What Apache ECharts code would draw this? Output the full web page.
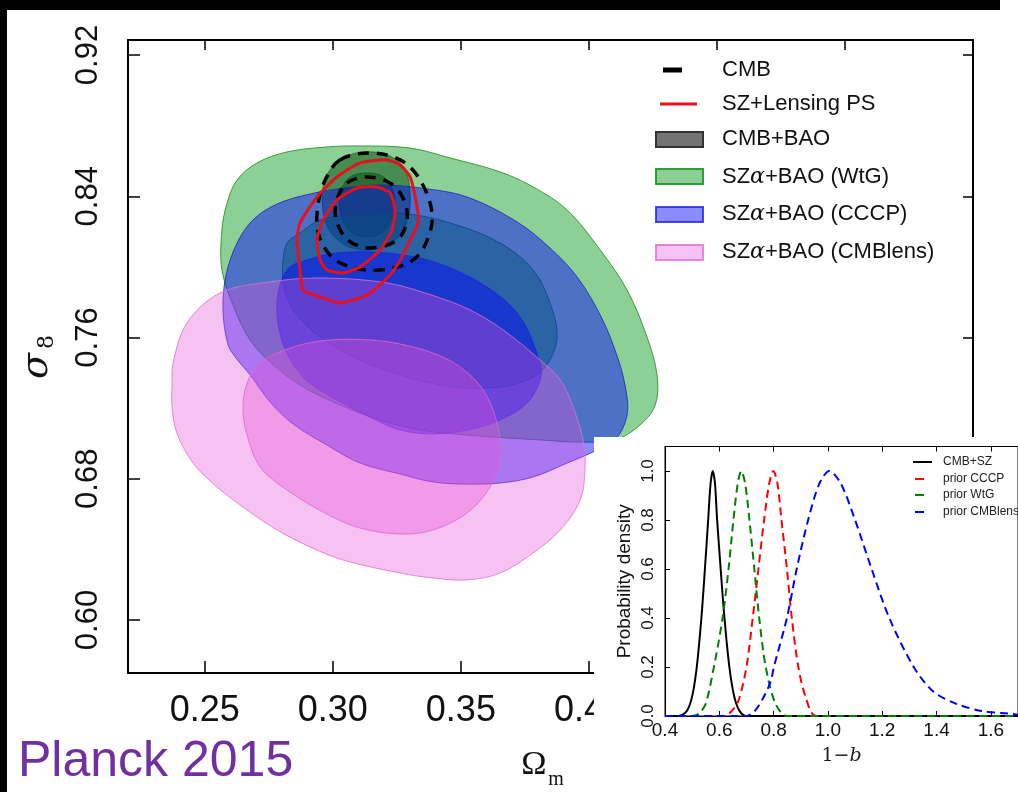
<!DOCTYPE html>
<html><head><meta charset="utf-8">
<script src="https://cdn.jsdelivr.net/npm/echarts@6/dist/echarts.min.js"></script>
<style>html,body{margin:0;padding:0;background:#fff}#c{width:1018px;height:792px}</style>
</head><body><div id="c"></div>
<script>
// ---------- main panel: tick values ----------
const omegaTicks = [0.25, 0.30, 0.35, 0.40, 0.45, 0.50, 0.55];
const sigmaTicks = [0.60, 0.68, 0.76, 0.84, 0.92];

// ---------- main panel: contours [Omega_m, sigma_8] ----------
const cmbbaoOuter = [[0.3126,0.8651],[0.3223,0.8628],[0.3282,0.8549],[0.3302,0.8407],[0.329,0.8254],[0.3243,0.8152],[0.3145,0.8096],[0.3048,0.8124],[0.2981,0.822],[0.2958,0.8379],[0.2977,0.8521],[0.304,0.8617]];
const cmbbaoInner = [[0.3134,0.8532],[0.3204,0.8504],[0.3239,0.8407],[0.3235,0.8294],[0.3196,0.8198],[0.3134,0.8169],[0.3071,0.8198],[0.3032,0.8294],[0.3028,0.8407],[0.3063,0.8504]];
const wtgOuter = [[0.2567,0.7983],[0.2567,0.8209],[0.2587,0.8362],[0.2626,0.8492],[0.2704,0.8589],[0.2821,0.8651],[0.2977,0.8679],[0.3106,0.8685],[0.3302,0.8673],[0.3458,0.8617],[0.3653,0.8538],[0.3782,0.8453],[0.3915,0.8322],[0.4044,0.8096],[0.4149,0.7869],[0.4227,0.7603],[0.4266,0.7388],[0.4259,0.7218],[0.42,0.7105],[0.4102,0.702],[0.3966,0.7008],[0.3809,0.702],[0.3575,0.7042],[0.3341,0.7076],[0.3184,0.7133],[0.3028,0.7218],[0.2872,0.7331],[0.2755,0.7461],[0.2677,0.7586],[0.2618,0.7756]];
const wtgInner = [[0.2805,0.8022],[0.2821,0.8135],[0.2872,0.8192],[0.295,0.8266],[0.3079,0.8294],[0.3263,0.8305],[0.3458,0.8249],[0.3653,0.8135],[0.3782,0.7983],[0.3848,0.7796],[0.3876,0.7614],[0.3848,0.7473],[0.3782,0.7376],[0.3653,0.732],[0.347,0.732],[0.3263,0.7388],[0.3106,0.7473],[0.295,0.7603],[0.286,0.7728],[0.2821,0.783],[0.2805,0.7926]];
const cccpOuter = [[0.2591,0.7558],[0.2571,0.7756],[0.2583,0.7954],[0.2626,0.8135],[0.2688,0.8266],[0.2782,0.8356],[0.2911,0.8413],[0.3048,0.8447],[0.3184,0.8464],[0.3341,0.8447],[0.3524,0.8396],[0.372,0.8254],[0.3848,0.8107],[0.3954,0.7943],[0.4044,0.7728],[0.4102,0.7529],[0.4141,0.7331],[0.4149,0.7161],[0.4102,0.702],[0.4016,0.6952],[0.3915,0.6889],[0.3782,0.681],[0.3653,0.6776],[0.3524,0.677],[0.3391,0.6782],[0.3263,0.6827],[0.3106,0.6889],[0.2977,0.6991],[0.2845,0.711],[0.2755,0.7235],[0.2677,0.7388],[0.2622,0.7484]];
const cccpInner = [[0.2782,0.7796],[0.2821,0.7983],[0.2899,0.8039],[0.3016,0.8079],[0.3212,0.8079],[0.3407,0.8022],[0.3602,0.7886],[0.3731,0.7716],[0.3809,0.7456],[0.3809,0.7359],[0.3759,0.7229],[0.3653,0.7133],[0.3524,0.7076],[0.3391,0.7054],[0.3263,0.7076],[0.3184,0.7122],[0.3016,0.7246],[0.2884,0.7376],[0.2805,0.7569]];
const lensOuter = [[0.2376,0.7456],[0.243,0.7682],[0.2559,0.7852],[0.2755,0.7915],[0.295,0.7937],[0.3212,0.7909],[0.3407,0.783],[0.3536,0.7756],[0.3665,0.7643],[0.3809,0.7473],[0.3888,0.7359],[0.3938,0.7207],[0.3977,0.702],[0.3985,0.6867],[0.3966,0.668],[0.3888,0.651],[0.3782,0.638],[0.3653,0.6266],[0.3524,0.6227],[0.3391,0.6238],[0.3263,0.6266],[0.304,0.634],[0.2911,0.6414],[0.2782,0.651],[0.2665,0.6623],[0.2548,0.6753],[0.2454,0.6889],[0.2391,0.7059],[0.2372,0.7207],[0.2372,0.7331]];
const lensInner = [[0.2649,0.719],[0.2665,0.7342],[0.2716,0.7456],[0.2845,0.7546],[0.2989,0.7586],[0.3145,0.7586],[0.3263,0.7563],[0.3391,0.7512],[0.3497,0.7433],[0.3587,0.7303],[0.3641,0.7116],[0.3653,0.6923],[0.3614,0.6753],[0.3524,0.6606],[0.3391,0.651],[0.3263,0.6487],[0.3106,0.6521],[0.2977,0.66],[0.2821,0.6736],[0.2716,0.6867],[0.2665,0.7048]];
const cmbOuter = [[0.3028,0.8606],[0.3145,0.8645],[0.3263,0.8606],[0.3341,0.8492],[0.3388,0.8294],[0.336,0.8124],[0.3302,0.8028],[0.3184,0.7983],[0.3067,0.80],[0.2989,0.8067],[0.2942,0.8198],[0.2942,0.8351],[0.297,0.8492]];
const cmbInner = [[0.3055,0.8475],[0.3134,0.8509],[0.3223,0.8475],[0.3274,0.839],[0.329,0.8266],[0.3251,0.8152],[0.3145,0.8107],[0.3059,0.8152],[0.3013,0.8266],[0.3016,0.8379]];
const szOuter = [[0.286,0.8152],[0.2872,0.8249],[0.2938,0.8396],[0.3016,0.8509],[0.3106,0.8589],[0.3212,0.8606],[0.3263,0.8577],[0.3302,0.8509],[0.3329,0.8339],[0.3333,0.8249],[0.3302,0.8152],[0.3263,0.8039],[0.3223,0.7954],[0.3134,0.7841],[0.3028,0.7796],[0.295,0.783],[0.2884,0.7869],[0.2872,0.7983]];
const szInner = [[0.295,0.8039],[0.2938,0.8152],[0.2962,0.8266],[0.3016,0.8379],[0.3095,0.8447],[0.3173,0.8453],[0.3223,0.8419],[0.3243,0.8322],[0.3231,0.8209],[0.3184,0.8096],[0.3106,0.80],[0.304,0.7966],[0.2977,0.7983]];

// ---------- inset: tick values and curves [1-b, density] ----------
const biasTicks = [0.4, 0.6, 0.8, 1.0, 1.2, 1.4, 1.6];
const densityTicks = [0.0, 0.2, 0.4, 0.6, 0.8, 1.0];
const cmbSZ = [[0.40,0],[0.45,0],[0.48,0.02],[0.50,0.08],[0.517,0.2],[0.534,0.4],[0.547,0.6],[0.559,0.8],[0.568,0.95],[0.576,1.0],[0.584,0.95],[0.592,0.8],[0.605,0.6],[0.619,0.4],[0.637,0.2],[0.655,0.08],[0.675,0.02],[0.70,0],[1.7,0]];
const priorWtG = [[0.40,0],[0.50,0],[0.525,0.01],[0.55,0.05],[0.58,0.2],[0.612,0.4],[0.634,0.6],[0.652,0.8],[0.668,0.95],[0.681,1.0],[0.695,0.95],[0.711,0.8],[0.729,0.6],[0.747,0.4],[0.771,0.2],[0.807,0.05],[0.85,0],[1.7,0]];
const priorCCCP = [[0.40,0],[0.62,0],[0.645,0.02],[0.67,0.06],[0.70,0.2],[0.723,0.4],[0.744,0.6],[0.765,0.8],[0.784,0.95],[0.799,1.0],[0.814,0.95],[0.829,0.8],[0.849,0.6],[0.867,0.4],[0.891,0.2],[0.92,0.07],[0.957,0],[1.7,0]];
const priorCMBlens = [[0.40,0],[0.70,0],[0.73,0.02],[0.76,0.07],[0.789,0.14],[0.801,0.2],[0.849,0.4],[0.885,0.6],[0.927,0.8],[0.969,0.95],[1.005,1.0],[1.047,0.95],[1.10,0.8],[1.161,0.6],[1.226,0.4],[1.316,0.2],[1.388,0.1],[1.472,0.05],[1.568,0.02],[1.664,0.01],[1.7,0.005]];

const SANS = 'Liberation Sans';
const chart = echarts.init(document.getElementById('c'), null, {renderer: 'canvas'});

function contour(name, pts, st, z) {
  return {
    type: 'custom', name: name, coordinateSystem: 'cartesian2d', xAxisIndex: 0, yAxisIndex: 0,
    z: z, silent: true, data: pts,
    renderItem: function (params, api) {
      if (params.dataIndex !== 0) return null;
      const points = pts.map(function (p) { return api.coord(p); });
      return {
        type: 'polygon',
        shape: {points: points, smooth: st.smooth == null ? 0.35 : st.smooth},
        style: {fill: st.fill || 'none', stroke: st.stroke, lineWidth: st.lineWidth || 1, lineDash: st.lineDash || null}
      };
    }
  };
}
function curve(name, pts, color, dashed) {
  return {
    type: 'line', name: name, xAxisIndex: 2, yAxisIndex: 2, data: pts, showSymbol: false, symbol: 'none',
    smooth: 0.3, z: 31, silent: true,
    lineStyle: {color: color, width: 2, type: dashed ? [8, 5] : 'solid'}
  };
}

const GRAY = 'rgba(30,30,30,0.55)', GREEN = 'rgba(0,150,20,0.45)', BLUE = 'rgba(0,0,255,0.45)', PINK = 'rgba(230,80,215,0.35)';

const mainAxisCommon = {
  type: 'value', gridIndex: 0, z: 1,
  axisLine: {show: true, onZero: false, lineStyle: {color: '#000', width: 2}},
  splitLine: {show: false}
};

const option = {
  animation: false,
  backgroundColor: '#fff',
  grid: [
    {left: 128, right: 45, top: 40, bottom: 119, show: false},
    {left: 665, right: -8, top: 446.5, bottom: 76, show: true, borderColor: '#000', borderWidth: 1, backgroundColor: 'transparent', z: 30}
  ],
  xAxis: [
    Object.assign({}, mainAxisCommon, {min: 0.22, max: 0.55, position: 'bottom',
      axisTick: {show: true, inside: true, length: 12, customValues: omegaTicks, lineStyle: {color: '#000', width: 1.5}},
      axisLabel: {customValues: omegaTicks, formatter: function (v) { return v.toFixed(2); }, fontSize: 36, fontFamily: SANS, color: '#111', margin: 20}}),
    Object.assign({}, mainAxisCommon, {min: 0.22, max: 0.55, position: 'top',
      axisTick: {show: true, inside: true, length: 10, customValues: omegaTicks, lineStyle: {color: '#000', width: 1.5}},
      axisLabel: {show: false}}),
    {type: 'value', gridIndex: 1, min: 0.4, max: 1.7, position: 'bottom', z: 30,
      axisLine: {show: true, onZero: false, lineStyle: {color: '#000', width: 1}},
      axisTick: {show: true, inside: true, length: 5, customValues: biasTicks, lineStyle: {color: '#000'}},
      axisLabel: {customValues: biasTicks, formatter: function (v) { return v.toFixed(1); }, fontSize: 19, fontFamily: SANS, color: '#111', margin: 5},
      splitLine: {show: false},
      name: '{a|1−}{b|b}', nameLocation: 'middle', nameGap: 31,
      nameTextStyle: {rich: {a: {fontSize: 19, fontFamily: 'DejaVu Serif', color: '#222'}, b: {fontSize: 19, fontFamily: 'DejaVu Serif', fontStyle: 'italic', color: '#222'}}}},
    {type: 'value', gridIndex: 1, min: 0.4, max: 1.7, position: 'top', z: 30,
      axisLine: {show: true, onZero: false, lineStyle: {color: '#000', width: 1}},
      axisTick: {show: true, inside: true, length: 5, customValues: biasTicks, lineStyle: {color: '#000'}},
      axisLabel: {show: false}, splitLine: {show: false}}
  ],
  yAxis: [
    Object.assign({}, mainAxisCommon, {min: 0.57, max: 0.9285, position: 'left',
      axisTick: {show: true, inside: true, length: 12, customValues: sigmaTicks, lineStyle: {color: '#000', width: 1.5}},
      axisLabel: {customValues: sigmaTicks, formatter: function (v) { return v.toFixed(2); }, rotate: 90, fontSize: 31, fontFamily: SANS, color: '#111', margin: 24}}),
    Object.assign({}, mainAxisCommon, {min: 0.57, max: 0.9285, position: 'right',
      axisTick: {show: true, inside: true, length: 10, customValues: sigmaTicks, lineStyle: {color: '#000', width: 1.5}},
      axisLabel: {show: false}}),
    {type: 'value', gridIndex: 1, min: 0, max: 1.1, position: 'left', z: 30,
      axisLine: {show: true, onZero: false, lineStyle: {color: '#000', width: 1}},
      axisTick: {show: true, inside: true, length: 5, customValues: densityTicks, lineStyle: {color: '#000'}},
      axisLabel: {customValues: densityTicks, formatter: function (v) { return v.toFixed(1); }, rotate: 90, fontSize: 17, fontFamily: SANS, color: '#111', margin: 8},
      splitLine: {show: false},
      name: 'Probability density', nameLocation: 'middle', nameRotate: 90, nameGap: 31,
      nameTextStyle: {fontSize: 19, fontFamily: SANS, color: '#111'}}
  ],
  series: [
    contour('CMB+BAO', cmbbaoOuter, {fill: GRAY, stroke: 'rgba(20,20,20,0.6)'}, 2),
    contour('CMB+BAO', cmbbaoInner, {fill: GRAY, stroke: 'rgba(20,20,20,0.6)'}, 2),
    contour('SZα+BAO (WtG)', wtgOuter, {fill: GREEN, stroke: 'rgba(40,150,40,0.9)'}, 3),
    contour('SZα+BAO (WtG)', wtgInner, {fill: GREEN, stroke: 'rgba(20,120,40,0.8)'}, 3),
    contour('SZα+BAO (CCCP)', cccpOuter, {fill: BLUE, stroke: 'rgba(30,30,200,0.8)'}, 4),
    contour('SZα+BAO (CCCP)', cccpInner, {fill: BLUE, stroke: 'rgba(30,30,230,0.8)'}, 4),
    contour('SZα+BAO (CMBlens)', lensOuter, {fill: PINK, stroke: 'rgba(225,110,215,0.8)'}, 5),
    contour('SZα+BAO (CMBlens)', lensInner, {fill: PINK, stroke: 'rgba(225,100,215,0.8)'}, 5),
    contour('CMB', cmbOuter, {stroke: '#000', lineWidth: 3.5, lineDash: [11, 8]}, 6),
    contour('CMB', cmbInner, {stroke: '#000', lineWidth: 3.5, lineDash: [11, 8]}, 6),
    contour('SZ+Lensing PS', szOuter, {stroke: '#e8101c', lineWidth: 3, smooth: 0.2}, 7),
    contour('SZ+Lensing PS', szInner, {stroke: '#e8101c', lineWidth: 3, smooth: 0.2}, 7),
    curve('CMB+SZ', cmbSZ, '#000', false),
    curve('prior CCCP', priorCCCP, '#ff0000', true),
    curve('prior WtG', priorWtG, '#008000', true),
    curve('prior CMBlens', priorCMBlens, '#0000ff', true)
  ],
  graphic: {elements: [
    {type: 'rect', z: 20, silent: true, shape: {x: 594, y: 437, width: 430, height: 360}, style: {fill: '#fff'}},
    {type: 'rect', z: 100, shape: {x: 0, y: 0, width: 1000, height: 10}, style: {fill: '#000'}},
    {type: 'rect', z: 100, shape: {x: 0, y: 0, width: 7, height: 792}, style: {fill: '#000'}},
    {type: 'text', z: 40, x: 37, y: 366, rotation: Math.PI / 2, style: {text: 'σ', font: 'italic 38px DejaVu Serif', fill: '#111', align: 'center', verticalAlign: 'middle'}},
    {type: 'text', z: 40, x: 47, y: 342, rotation: Math.PI / 2, style: {text: '8', font: '22px DejaVu Serif', fill: '#111', align: 'center', verticalAlign: 'middle'}},
    {type: 'text', z: 40, x: 534, y: 765, style: {text: 'Ω', font: '34px Liberation Serif', fill: '#111', align: 'center', verticalAlign: 'middle'}},
    {type: 'text', z: 40, x: 556, y: 780, style: {text: 'm', font: '20px Liberation Serif', fill: '#111', align: 'center', verticalAlign: 'middle'}},
    {type: 'text', z: 40, x: 18, y: 762, style: {text: 'Planck 2015', font: '50px Liberation Sans', fill: '#7030a0', align: 'left', verticalAlign: 'middle'}},
    {type: 'line', z: 40, shape: {x1: 663, y1: 70, x2: 682, y2: 70}, style: {stroke: '#000', lineWidth: 5}},
    {type: 'line', z: 40, shape: {x1: 660, y1: 104, x2: 697, y2: 104}, style: {stroke: '#e8101c', lineWidth: 3}},
    {type: 'rect', z: 40, shape: {x: 656, y: 132, width: 47, height: 15}, style: {fill: 'rgba(40,40,40,0.65)', stroke: '#333', lineWidth: 2}},
    {type: 'rect', z: 40, shape: {x: 656, y: 169, width: 47, height: 15}, style: {fill: GREEN, stroke: 'rgba(30,150,40,0.9)', lineWidth: 2}},
    {type: 'rect', z: 40, shape: {x: 656, y: 207, width: 47, height: 15}, style: {fill: BLUE, stroke: 'rgba(30,30,230,0.8)', lineWidth: 2}},
    {type: 'rect', z: 40, shape: {x: 656, y: 245, width: 47, height: 15}, style: {fill: PINK, stroke: 'rgba(225,110,215,0.8)', lineWidth: 2}},
    {type: 'text', z: 40, x: 722, y: 70, style: {text: 'CMB', font: '22px Liberation Sans', fill: '#111', verticalAlign: 'middle'}},
    {type: 'text', z: 40, x: 722, y: 104, style: {text: 'SZ+Lensing PS', font: '22px Liberation Sans', fill: '#111', verticalAlign: 'middle'}},
    {type: 'text', z: 40, x: 722, y: 139, style: {text: 'CMB+BAO', font: '22px Liberation Sans', fill: '#111', verticalAlign: 'middle'}},
    {type: 'text', z: 40, x: 722, y: 177, style: {text: '{n|SZ}{a|α}{n|+BAO (WtG)}', verticalAlign: 'middle', rich: {n: {fontSize: 22, fontFamily: SANS, fill: '#111'}, a: {fontSize: 22, fontFamily: 'DejaVu Serif', fontStyle: 'italic', fill: '#111'}}}},
    {type: 'text', z: 40, x: 722, y: 214, style: {text: '{n|SZ}{a|α}{n|+BAO (CCCP)}', verticalAlign: 'middle', rich: {n: {fontSize: 22, fontFamily: SANS, fill: '#111'}, a: {fontSize: 22, fontFamily: 'DejaVu Serif', fontStyle: 'italic', fill: '#111'}}}},
    {type: 'text', z: 40, x: 722, y: 252, style: {text: '{n|SZ}{a|α}{n|+BAO (CMBlens)}', verticalAlign: 'middle', rich: {n: {fontSize: 22, fontFamily: SANS, fill: '#111'}, a: {fontSize: 22, fontFamily: 'DejaVu Serif', fontStyle: 'italic', fill: '#111'}}}},
    {type: 'line', z: 40, shape: {x1: 913, y1: 462, x2: 932, y2: 462}, style: {stroke: '#000', lineWidth: 2}},
    {type: 'line', z: 40, shape: {x1: 915, y1: 479, x2: 924, y2: 479}, style: {stroke: '#ff0000', lineWidth: 2}},
    {type: 'line', z: 40, shape: {x1: 915, y1: 495, x2: 924, y2: 495}, style: {stroke: '#008000', lineWidth: 2}},
    {type: 'line', z: 40, shape: {x1: 915, y1: 512, x2: 924, y2: 512}, style: {stroke: '#0000ff', lineWidth: 2}},
    {type: 'text', z: 40, x: 943, y: 462, style: {text: 'CMB+SZ', font: '12px Liberation Sans', fill: '#222', verticalAlign: 'middle'}},
    {type: 'text', z: 40, x: 943, y: 479, style: {text: 'prior CCCP', font: '12px Liberation Sans', fill: '#222', verticalAlign: 'middle'}},
    {type: 'text', z: 40, x: 943, y: 495, style: {text: 'prior WtG', font: '12px Liberation Sans', fill: '#222', verticalAlign: 'middle'}},
    {type: 'text', z: 40, x: 943, y: 512, style: {text: 'prior CMBlens', font: '12px Liberation Sans', fill: '#222', verticalAlign: 'middle'}}
  ]}
};
chart.setOption(option);
</script></body></html>
